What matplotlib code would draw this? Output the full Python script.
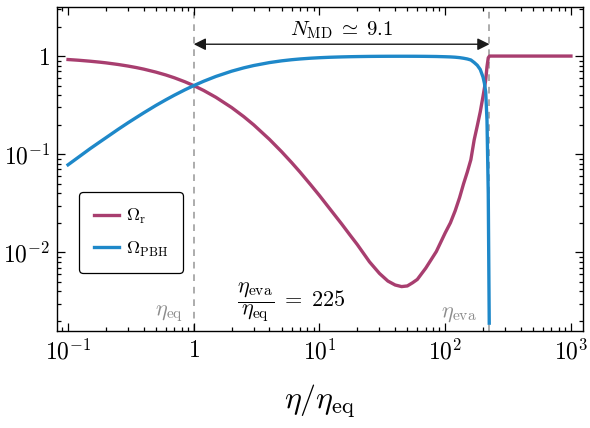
import numpy as np
import matplotlib
matplotlib.use('Agg')
import matplotlib.pyplot as plt
from matplotlib.ticker import FixedLocator, FixedFormatter, LogLocator, NullFormatter

plt.rcParams['mathtext.fontset'] = 'cm'
plt.rcParams['font.family'] = 'serif'
plt.rcParams['font.serif'] = ['DejaVu Serif']

# eta / eta_eq and the two density fractions
eta_r = [0.1, 0.12, 0.15, 0.18, 0.2, 0.25, 0.3, 0.35, 0.4, 0.5, 0.6, 0.7, 0.85, 1, 1.2, 1.5,
         2, 2.5, 3, 4, 5, 6, 7, 8.5, 10, 12, 15, 17.5, 20, 25, 30, 35, 40, 45, 50, 55, 60,
         70, 85, 100, 110, 120, 130, 140, 150, 160, 170, 180, 190, 200, 205, 210, 215, 220,
         225, 300, 500, 1000]
omega_r = [0.922, 0.9075, 0.886, 0.866, 0.853, 0.821, 0.791, 0.763, 0.736, 0.686, 0.6415,
           0.601, 0.547, 0.500, 0.446, 0.380, 0.299, 0.2414, 0.199, 0.1417, 0.106, 0.0823,
           0.0658, 0.0489, 0.0379, 0.0281, 0.0195, 0.0150, 0.0120, 0.0080, 0.0061, 0.0051,
           0.00465, 0.00448, 0.00455, 0.0049, 0.0053, 0.0069, 0.0102, 0.0158, 0.0200, 0.0265,
           0.036, 0.050, 0.066, 0.088, 0.14, 0.195, 0.27, 0.39, 0.47, 0.57, 0.78, 0.96,
           1.0, 1.0, 1.0, 1.0]

eta_pbh = [0.1, 0.12, 0.15, 0.18, 0.2, 0.25, 0.3, 0.35, 0.4, 0.5, 0.6, 0.7, 0.85, 1, 1.2, 1.5,
           2, 2.5, 3, 4, 5, 6, 7, 8.5, 10, 12, 15, 17.5, 20, 25, 30, 35, 40, 45, 50, 55, 60,
           70, 85, 100, 110, 120, 130, 140, 150, 160, 170, 180, 190, 200, 205, 210, 215, 220, 224]
omega_pbh = [0.078, 0.0925, 0.114, 0.134, 0.147, 0.179, 0.209, 0.237, 0.264, 0.314, 0.3585,
             0.399, 0.453, 0.500, 0.554, 0.620, 0.701, 0.7586, 0.801, 0.8583, 0.894, 0.9177,
             0.9342, 0.9511, 0.9621, 0.9719, 0.9805, 0.985, 0.988, 0.992, 0.9939, 0.9949,
             0.9953, 0.9955, 0.9954, 0.9951, 0.9947, 0.9931, 0.9898, 0.9842, 0.980, 0.9735,
             0.964, 0.950, 0.934, 0.912, 0.86, 0.805, 0.73, 0.61, 0.53, 0.43, 0.22, 0.04, 0.0019]

eta_eq = 1
eta_eva = 225
n_md = 9.1

xticks = [0.1, 1, 10, 100, 1000]
xticklabels = [r'$10^{-1}$', r'$1$', r'$10^{1}$', r'$10^{2}$', r'$10^{3}$']
yticks = [0.01, 0.1, 1]
yticklabels = [r'$10^{-2}$', r'$10^{-1}$', r'$1$']

c_r = '#A83E6F'
c_pbh = '#1E88C9'

fig = plt.figure(figsize=(5.9, 4.28), dpi=100)
ax = fig.add_axes([0.0966, 0.2266, 0.8915, 0.757])

ax.plot(eta_r, omega_r, color=c_r, lw=2.4, label=r'$\Omega_{\rm r}$', zorder=3,
        solid_joinstyle='round')
ax.plot(eta_pbh, omega_pbh, color=c_pbh, lw=2.4, label=r'$\Omega_{\rm PBH}$', zorder=3,
        solid_joinstyle='round')

ax.axvline(eta_eq, color='0.62', ls=(0, (4, 3.5)), lw=1.2, zorder=1)
ax.axvline(eta_eva, color='0.62', ls=(0, (4, 3.5)), lw=1.2, zorder=1)

ax.set_xscale('log')
ax.set_yscale('log')
ax.set_xlim(0.0817, 1247)
ax.set_ylim(0.00158, 3.16)

ax.xaxis.set_major_locator(FixedLocator(xticks))
ax.xaxis.set_major_formatter(FixedFormatter(xticklabels))
ax.yaxis.set_major_locator(FixedLocator(yticks))
ax.yaxis.set_major_formatter(FixedFormatter(yticklabels))
ax.xaxis.set_minor_locator(LogLocator(base=10, subs=np.arange(2, 10), numticks=20))
ax.yaxis.set_minor_locator(LogLocator(base=10, subs=np.arange(2, 10), numticks=20))
ax.xaxis.set_minor_formatter(NullFormatter())
ax.yaxis.set_minor_formatter(NullFormatter())
ax.tick_params(which='both', direction='in', top=True, right=True, labelsize=17, width=0.9)
ax.tick_params(which='major', length=5.5, pad=6)
ax.tick_params(axis='y', which='major', pad=5)
ax.tick_params(which='minor', length=3)
for s in ax.spines.values():
    s.set_linewidth(1.0)

ax.set_xlabel(r'$\eta/\eta_{\rm eq}$', fontsize=23, labelpad=13)

ax.annotate('', xy=(eta_eq, 1.32), xytext=(eta_eva, 1.32),
            arrowprops=dict(arrowstyle='<|-|>', color='0.1', lw=1.0,
                            mutation_scale=18, shrinkA=0, shrinkB=0))
ax.text(15, 1.84, r'$N_{\rm MD}\;\simeq\;%.1f$' % n_md, fontsize=15, ha='center', va='center')
ax.text(6.0, 0.0031, r'$\dfrac{\eta_{\rm eva}}{\eta_{\rm eq}}\;=\;%d$' % eta_eva,
        fontsize=16, ha='center', va='center')

ax.annotate(r'$\eta_{\rm eq}$', xy=(eta_eq, 0.0024), xytext=(-8, 0), textcoords='offset points',
            ha='right', va='center', fontsize=16, color='0.55')
ax.annotate(r'$\eta_{\rm eva}$', xy=(eta_eva, 0.0024), xytext=(-9, 0), textcoords='offset points',
            ha='right', va='center', fontsize=16, color='0.55')

leg = ax.legend(loc='lower left', bbox_to_anchor=(0.042, 0.179), borderaxespad=0,
                fontsize=13, fancybox=True, framealpha=1, edgecolor='black',
                handlelength=1.4, handletextpad=0.4, borderpad=0.8, labelspacing=0.75)
leg.get_frame().set_linewidth(0.9)

fig.savefig('out.png', dpi=100)
